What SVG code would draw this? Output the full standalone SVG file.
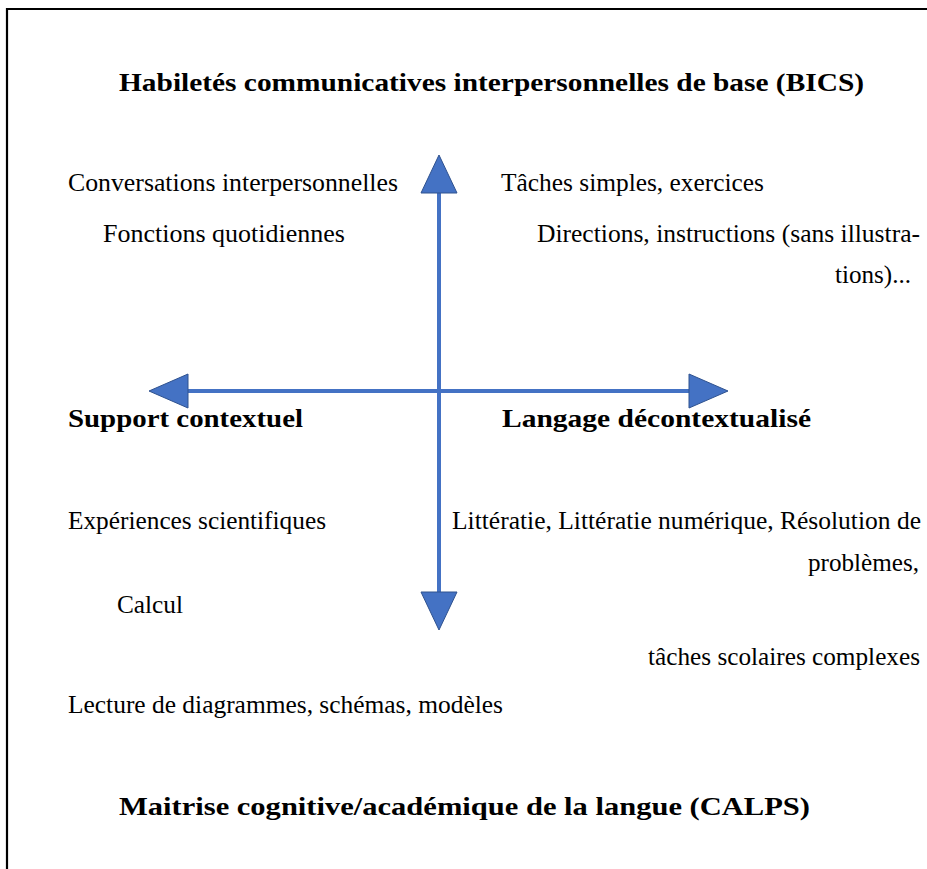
<svg xmlns="http://www.w3.org/2000/svg" width="927" height="869" viewBox="0 0 927 869">
<style>
text{font-family:"Liberation Serif","DejaVu Serif",serif;font-size:25px;fill:#000}
.b{font-weight:bold}
.shaft{stroke:#4472C4;stroke-width:4;fill:none}
.head{fill:#4472C4;stroke:#2F528F;stroke-width:1}
</style>
<rect width="927" height="869" fill="#fff"/>
<path d="M7,869 V9 H927" fill="none" stroke="#000" stroke-width="2.2"/>
<g id="connectors">
<line class="shaft" x1="439" y1="190" x2="439" y2="595"/>
<line class="shaft" x1="185" y1="391" x2="692" y2="391"/>
<polygon class="head" points="439,155 457,193 421,193"/>
<polygon class="head" points="439,630 457,592 421,592"/>
<polygon class="head" points="149,391 188,374 188,408"/>
<polygon class="head" points="728,391 689,374 689,408"/>
</g>
<g id="title-bics"><text class="b" x="119" y="91" textLength="745" lengthAdjust="spacingAndGlyphs">Habiletés communicatives interpersonnelles de base (BICS)</text></g>
<g id="conv"><text x="68" y="191" textLength="330" lengthAdjust="spacingAndGlyphs">Conversations interpersonnelles</text></g>
<g id="taches"><text x="501" y="191" textLength="263" lengthAdjust="spacingAndGlyphs">Tâches simples, exercices</text></g>
<g id="fonctions"><text x="103" y="242" textLength="242" lengthAdjust="spacingAndGlyphs">Fonctions quotidiennes</text></g>
<g id="directions">
<text x="537" y="242" textLength="383" lengthAdjust="spacingAndGlyphs">Directions, instructions (sans illustra-</text>
<text x="835" y="283" textLength="76" lengthAdjust="spacingAndGlyphs">tions)...</text>
</g>
<g id="support"><text class="b" x="68" y="427" textLength="235" lengthAdjust="spacingAndGlyphs">Support contextuel</text></g>
<g id="langage"><text class="b" x="502" y="427" textLength="309" lengthAdjust="spacingAndGlyphs">Langage décontextualisé</text></g>
<g id="experiences"><text x="68" y="529" textLength="258" lengthAdjust="spacingAndGlyphs">Expériences scientifiques</text></g>
<g id="litteratie">
<text x="452" y="529" textLength="469" lengthAdjust="spacingAndGlyphs">Littératie, Littératie numérique, Résolution de</text>
<text x="808" y="571" textLength="111" lengthAdjust="spacingAndGlyphs">problèmes,</text>
</g>
<g id="calcul"><text x="117" y="613" textLength="66" lengthAdjust="spacingAndGlyphs">Calcul</text></g>
<g id="scolaires"><text x="648" y="665" textLength="272" lengthAdjust="spacingAndGlyphs">tâches scolaires complexes</text></g>
<g id="lecture"><text x="68" y="713" textLength="435" lengthAdjust="spacingAndGlyphs">Lecture de diagrammes, schémas, modèles</text></g>
<g id="title-calps"><text class="b" x="119" y="815" textLength="691" lengthAdjust="spacingAndGlyphs">Maitrise cognitive/académique de la langue (CALPS)</text></g>
</svg>
